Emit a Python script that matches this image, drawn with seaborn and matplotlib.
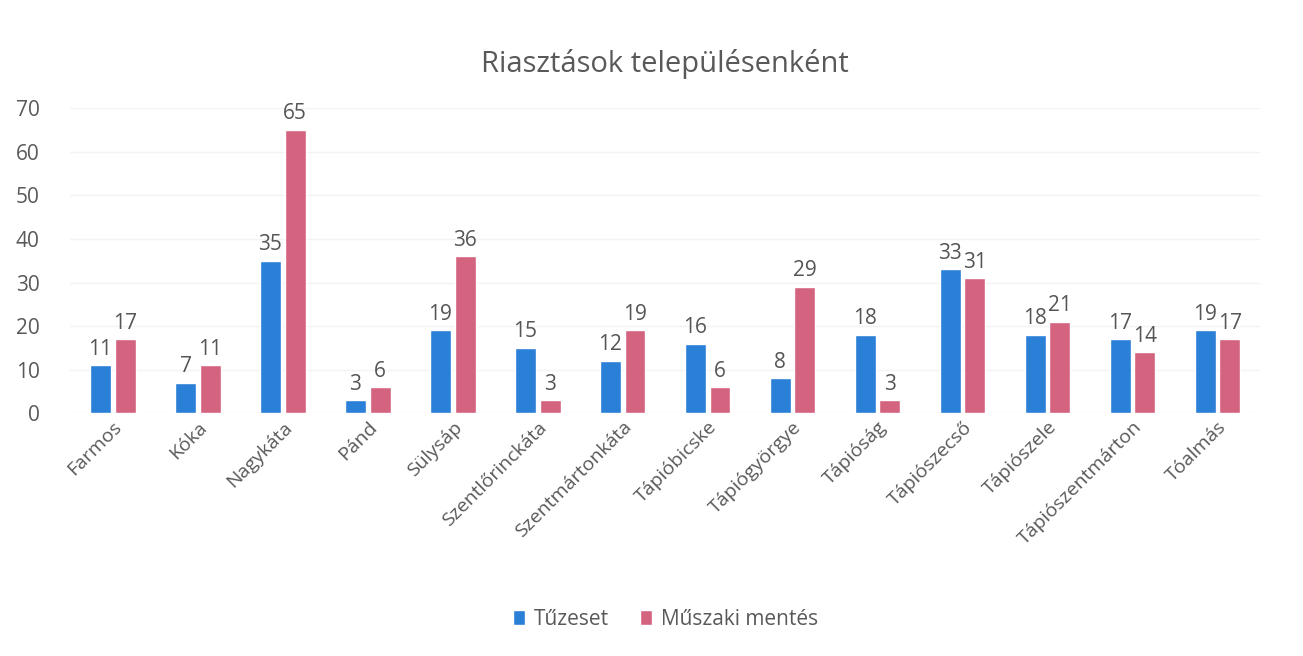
import numpy as np
import pandas as pd
import matplotlib.pyplot as plt
import seaborn as sns

telepulesek = ['Farmos', 'Kóka', 'Nagykáta', 'Pánd', 'Sülysáp', 'Szentlőrinckáta',
               'Szentmártonkáta', 'Tápióbicske', 'Tápiógyörgye', 'Tápióság',
               'Tápiószecső', 'Tápiószele', 'Tápiószentmárton', 'Tóalmás']
tuzeset = [11, 7, 35, 3, 19, 15, 12, 16, 8, 18, 33, 18, 17, 19]
muszaki = [17, 11, 65, 6, 36, 3, 19, 6, 29, 3, 31, 21, 14, 17]
sorozatok = ['Tűzeset', 'Műszaki mentés']

df = pd.DataFrame({
    'Település': telepulesek * 2,
    'Riasztás': tuzeset + muszaki,
    'Típus': [sorozatok[0]] * len(telepulesek) + [sorozatok[1]] * len(telepulesek),
})

sns.set_style('white')
plt.rcParams['font.family'] = ['Open Sans', 'DejaVu Sans']

fig = plt.figure(figsize=(13.03, 6.56), dpi=100)
ax = fig.add_axes([0.054, 0.37, 0.913, 0.465])

sns.barplot(data=df, x='Település', y='Riasztás', hue='Típus',
            palette=['#2a80d6', '#d4637f'], saturation=1, width=0.58, gap=0.15,
            ax=ax, legend=True)

for cont in ax.containers:
    ax.bar_label(cont, padding=4, fontsize=15, color='#555555')

ax.set_ylim(0, 70)
ax.set_yticks(range(0, 71, 10))
ax.tick_params(axis='y', labelsize=15, labelcolor='#595959', length=0, pad=22)
ax.tick_params(axis='x', labelsize=14, labelcolor='#595959', length=0)
plt.setp(ax.get_xticklabels(), rotation=45, ha='right', rotation_mode='anchor')
ax.set_xlabel('')
ax.set_ylabel('')
ax.yaxis.grid(True, color='#f3f3f3', linewidth=1)
ax.set_axisbelow(True)
sns.despine(ax=ax, left=True, bottom=True)

ax.set_title('Riasztások településenként', fontsize=21, color='#595959', pad=26)

ax.legend(loc='upper center', bbox_to_anchor=(0.5, -0.58), ncol=2, frameon=False,
          fontsize=15, labelcolor='#595959', handlelength=0.6, handleheight=0.7,
          columnspacing=1.5, handletextpad=0.4)

fig.savefig('out.png', dpi=100)
